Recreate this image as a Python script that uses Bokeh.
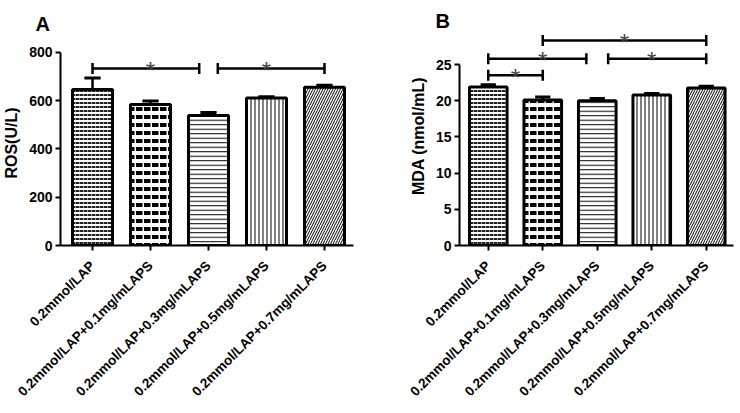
import math
from bokeh.plotting import figure
from bokeh.layouts import row
from bokeh.models import FixedTicker
from bokeh.core.properties import value
from bokeh.embed import file_html
from bokeh.resources import INLINE

# ---------------- data ----------------
groups = ["0.2mmol/LAP", "0.2mmol/LAP+0.1mg/mLAPS", "0.2mmol/LAP+0.3mg/mLAPS",
          "0.2mmol/LAP+0.5mg/mLAPS", "0.2mmol/LAP+0.7mg/mLAPS"]
ros_mean = [647, 584, 539, 611, 656]
ros_err = [47, 15, 12, 6, 8]
mda_mean = [21.9, 20.1, 20.0, 20.8, 21.75]
mda_err = [0.3, 0.4, 0.3, 0.2, 0.25]
# significance brackets: (from group, to group, height)
ros_sig = [(1, 3, 734), (3, 5, 734)]
mda_sig = [(1, 2, 23.5), (1, 3, 25.8), (3, 5, 25.8), (2, 5, 28.3)]
ros_ticks = [0, 200, 400, 600, 800]
mda_ticks = [0, 5, 10, 15, 20, 25]

FONT = "Liberation Sans"

styles = [
    dict(hatch_pattern="horizontal_dash", hatch_scale=4, hatch_weight=2, hatch_color="#222222"),
    dict(hatch_pattern="horizontal_dash", hatch_scale=8, hatch_weight=4, hatch_color="black"),
    dict(hatch_pattern="horizontal_line", hatch_scale=4.5, hatch_weight=1.0, hatch_color="black"),
    dict(hatch_pattern="vertical_line", hatch_scale=4, hatch_weight=1.0, hatch_color="black"),
    dict(hatch_pattern="right_diagonal_line", hatch_scale=5, hatch_weight=1.0, hatch_color="black"),
]


def make_panel(letter, loff, lstand, means, errs, sig, ticks, ylabel, width, ymax, xr,
               mbl, mbr, mbt, gap):
    xs = list(range(1, len(means) + 1))
    p = figure(width=width, height=413, output_backend="svg", toolbar_location=None,
               x_range=xr, y_range=(0, ymax),
               min_border_left=mbl, min_border_right=mbr, min_border_top=mbt,
               min_border_bottom=168)
    if hasattr(p, "frame_align"):
        p.frame_align = False
    p.outline_line_color = None
    p.grid.visible = False
    p.background_fill_color = "white"
    p.border_fill_color = "white"

    for i, st in enumerate(styles):
        p.vbar(x=xs[i], top=means[i], width=0.69, bottom=0,
               fill_color="white", line_color="black", line_width=3, **st)
    # upper error bars
    tops = [m + e for m, e in zip(means, errs)]
    p.segment(x0=xs, y0=means, x1=xs, y1=tops, line_color="black", line_width=2.5)
    p.segment(x0=[x - 0.14 for x in xs], y0=tops, x1=[x + 0.14 for x in xs], y1=tops,
              line_color="black", line_width=3)

    # significance brackets
    for (a, b, h) in sig:
        x0 = a + (gap if a == 3 else 0)
        x1 = b - (gap if b == 3 else 0)
        p.segment(x0=[x0], y0=[h], x1=[x1], y1=[h], line_color="black", line_width=2.5)
        p.scatter(x=[x0, x1], y=[h, h], marker="dash", angle=math.pi / 2, size=11,
                  line_color="black", line_width=2.5)
        p.text(x=[(a + b) / 2], y=[h], text=["*"], text_align="center",
               text_baseline="middle", text_font=value(FONT), text_font_size="24px",
               text_color="#444444", y_offset=2)

    ya = p.yaxis[0]
    ya.ticker = FixedTicker(ticks=ticks)
    ya.bounds = (0, ticks[-1])
    ya.axis_label = ylabel
    ya.axis_label_text_font = FONT
    ya.axis_label_text_font_style = "bold"
    ya.axis_label_text_font_size = "16px"
    ya.axis_label_text_color = "black"
    ya.axis_label_standoff = 6
    xa = p.xaxis[0]
    xa.axis_label = None
    xa.axis_label_standoff = 0
    xa.ticker = FixedTicker(ticks=xs)
    xa.major_label_overrides = {x: g for x, g in zip(xs, groups)}
    xa.major_label_orientation = math.pi / 4
    for ax in (xa, ya):
        ax.axis_line_width = 2
        ax.axis_line_color = "black"
        ax.major_tick_line_width = 2
        ax.major_tick_line_color = "black"
        ax.major_tick_out = 5
        ax.major_tick_in = 0
        ax.minor_tick_line_color = None
        ax.major_label_text_font = FONT
        ax.major_label_text_font_style = "bold"
        ax.major_label_text_color = "black"
    ya.major_label_text_font_size = "14px"
    xa.major_label_text_font_size = "13.5px"
    ya.major_label_standoff = 3
    xa.major_label_standoff = 13

    p.title.text = letter
    p.title.align = "left"
    p.title.offset = loff
    p.title.standoff = lstand
    p.title.text_font = FONT
    p.title.text_font_style = "bold"
    p.title.text_font_size = "20px"
    p.title.text_color = "black"
    return p


pA = make_panel("A", -25, 11, ros_mean, ros_err, ros_sig, ros_ticks, "ROS(U/L)", 370, 849.7,
                (0.448, 5.5), 60, 17, 40, 0.16)
pB = make_panel("B", -24, -11, mda_mean, mda_err, mda_sig, mda_ticks, "MDA (nmol/mL)", 370, 30.25,
                (0.472, 5.5), 89, 7, 26, 0.2)

layout = row(pA, pB)
open("out.html", "w").write(file_html(layout, INLINE))
